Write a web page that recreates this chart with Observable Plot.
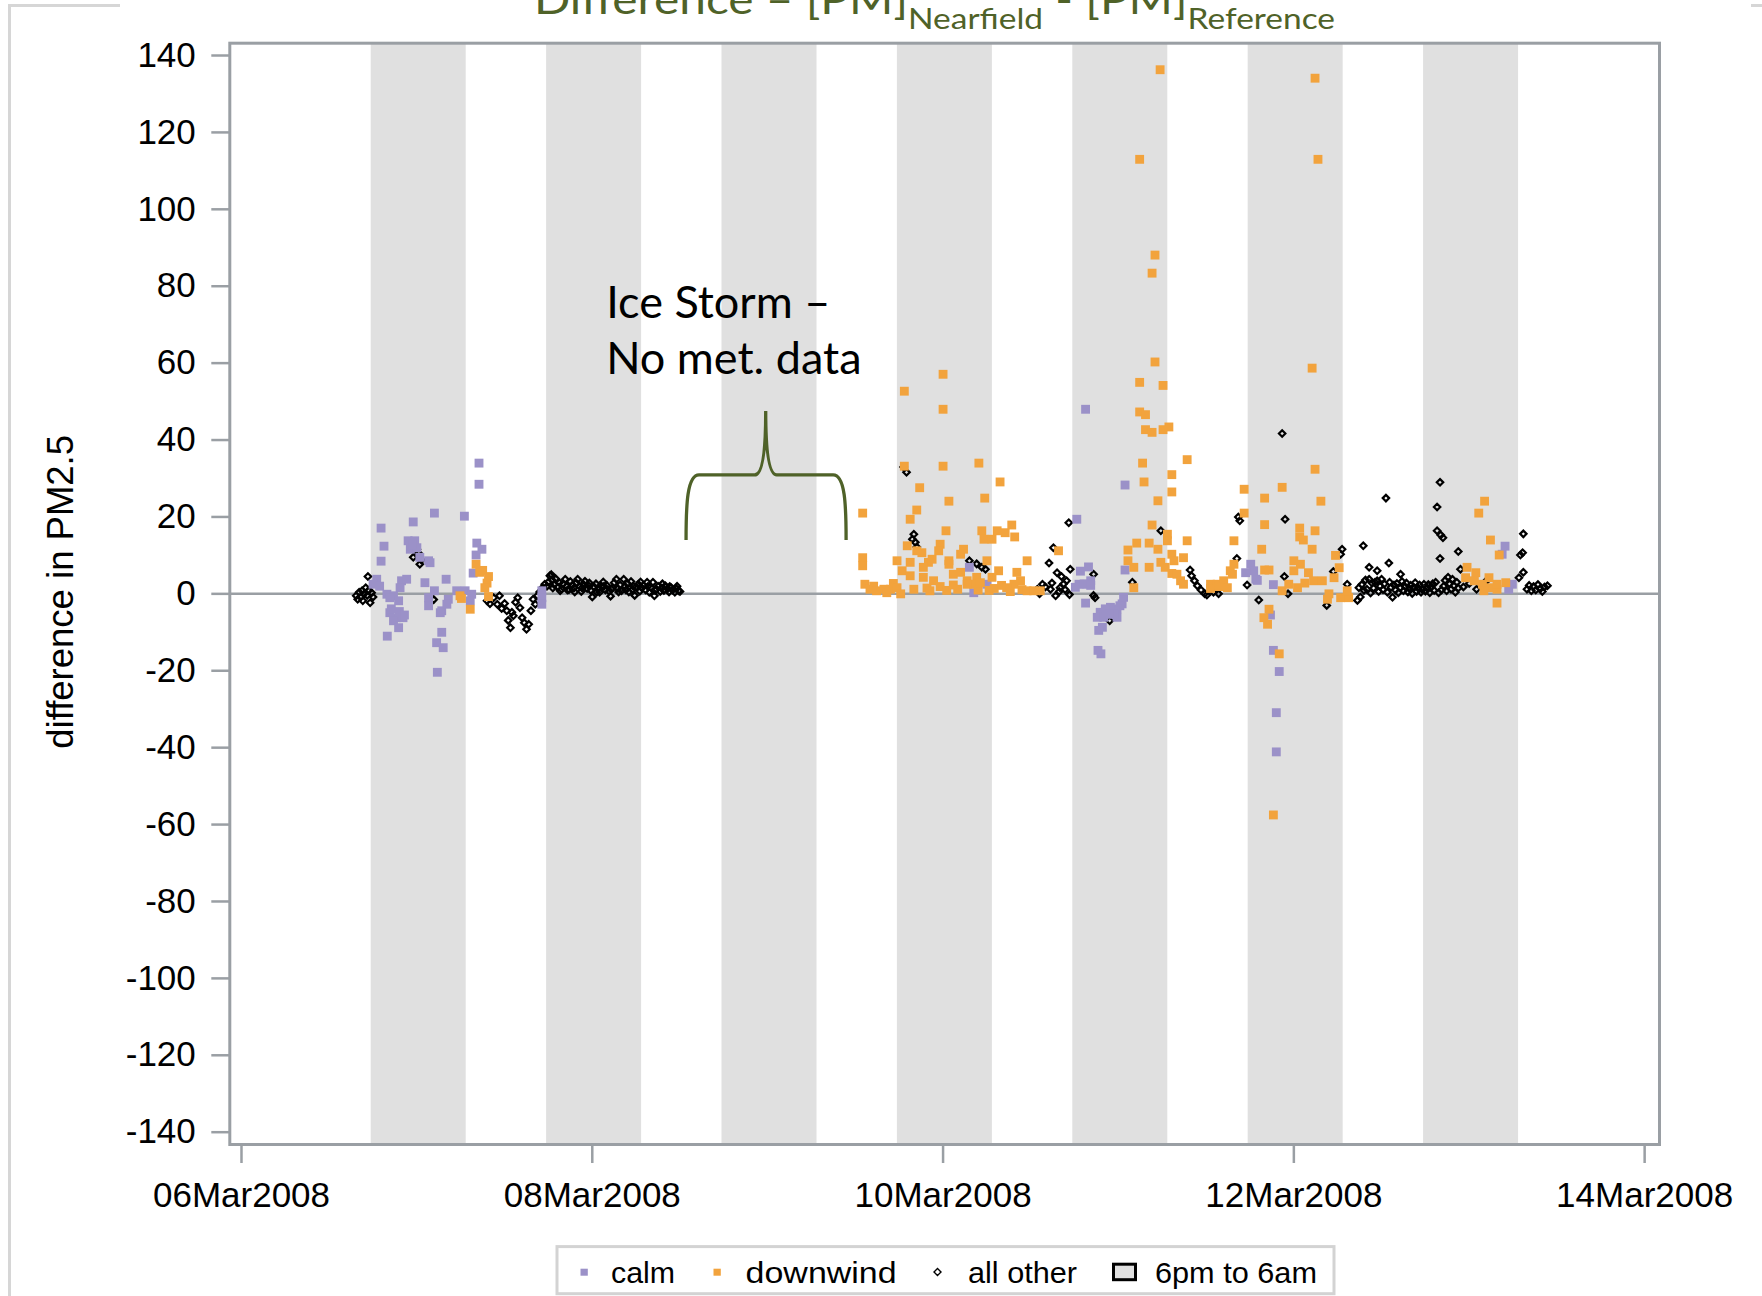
<!DOCTYPE html>
<html>
<head>
<meta charset="utf-8">
<script src="https://cdn.jsdelivr.net/npm/d3@7"></script>
<script src="https://cdn.jsdelivr.net/npm/@observablehq/plot@0.6"></script>
<style>
  html, body { margin: 0; padding: 0; background: #fff; overflow: hidden; }
  #wrap { position: relative; width: 1762px; height: 1296px; overflow: hidden; }
  #chart { position: absolute; left: 0; top: 0; }
  .art { position: absolute; background: #d6d6d6; }
  .ov { position: absolute; left: 0; }
</style>
</head>
<body>
<div id="wrap">
  <div class="art" style="left:8px;top:4px;width:3px;height:1300px"></div>
  <div class="art" style="left:8px;top:4px;width:112px;height:3px"></div>
  <div class="art" style="left:1751px;top:4px;width:11px;height:3px"></div>
  <div id="chart"></div>
  <svg id="title" class="ov" style="top:0" width="1762" height="60"></svg>
  <svg id="legend" class="ov" style="top:1236px" width="1762" height="60"></svg>
</div>
<script>
// ---------- data (hours since 06Mar2008 00:00, difference in PM2.5) ----------
const START = Date.UTC(2008, 2, 6);

const calm = [
  [32.5,34.0],[32.5,28.5],[26.4,21.0],[30.5,20.2],[23.5,18.7],[19.1,17.1],[19.5,12.4],[19.1,8.5],
  [22.8,13.8],[23.7,13.8],[23.1,11.6],[24.0,12.0],[23.4,12.8],[24.4,9.5],[25.6,8.6],[25.8,8.1],
  [18.5,3.8],[18.0,2.5],[18.9,2.0],[21.9,3.4],[22.6,3.8],[21.7,1.6],[25.1,2.9],[28.0,3.8],[26.4,0.8],
  [19.9,-0.1],[20.8,-0.5],[21.5,-1.8],[20.3,-1.0],[25.6,-1.0],[25.6,-3.1],
  [20.3,-4.9],[21.2,-6.2],[22.1,-6.2],[20.8,-7.0],[21.5,-8.8],[20.5,-3.9],[21.6,-4.6],[22.3,-5.5],[19.95,-11.0],
  [27.4,-4.4],[27.2,-4.9],[28.3,-1.4],[28.1,-2.7],[29.45,0.8],[30.6,0.8],[31.5,-0.1],[31.3,-1.8],
  [27.4,-10.0],[26.7,-12.7],[27.6,-14.0],[26.8,-20.4],
  [32.2,13.2],[32.9,11.6],[32.1,10.1],[31.7,5.4],
  [41.1,0.8],[41.1,-1.0],[41.1,-2.7],
  [99.6,6.9],[100.2,0.3],[102.0,2.5],
  [115.5,48.0],[114.3,19.4],[114.8,5.9],[115.9,7.0],[116.2,3.4],[114.6,2.5],[115.7,2.5],[115.3,2.6],[114.1,1.7],[116.2,2.2],[115.5,-2.4],
  [120.9,28.3],[120.9,6.2],
  [120.7,-0.9],[120.5,-2.6],[120.2,-3.1],[119.8,-3.9],[119.6,-4.4],[118.9,-3.5],[118.9,-5.3],[118.2,-3.9],[117.5,-4.8],
  [117.1,-6.1],[118.0,-6.1],[119.8,-6.1],[119.4,-5.2],[118.7,-5.2],[117.8,-8.7],[117.3,-9.5],[117.2,-14.7],[117.6,-15.6],
  [138.1,7.7],[138.5,6.0],[137.4,5.5],[138.8,3.8],[139.0,3.5],[141.2,2.4],[140.8,-5.5],[141.2,-14.7],[142.0,-20.2],[141.6,-30.9],[141.6,-41.1],
  [172.9,12.4],[172.5,10.3],[173.9,2.5],[173.4,1.2]
];

const downwind = [
  [29.9,-0.5],[30.1,-1.2],[31.3,-4.0],[32.1,7.7],[32.6,5.6],[33.0,6.1],[33.6,2.8],[33.8,4.5],[33.3,1.6],[33.8,-0.7],
  [85.0,21.0],[85.0,9.4],[85.0,7.3],[85.3,2.5],[86.0,1.2],[86.5,2.0],[86.9,0.8],[87.9,1.2],[88.3,0.3],[88.8,1.2],[89.2,2.7],[89.7,1.6],[90.2,0.0],
  [90.7,52.7],[96.0,57.1],[96.0,48.0],[90.7,33.2],[96.0,33.2],[100.9,34.0],[92.8,27.6],[103.8,29.1],[96.8,24.1],[101.7,24.9],[92.4,21.8],[91.5,19.4],[96.4,16.4],
  [101.3,16.4],[101.6,14.2],[102.7,14.2],[103.4,16.4],[104.5,15.9],[105.4,17.9],[105.8,14.8],
  [91.1,12.5],[92.4,11.2],[93.1,10.7],[91.5,8.2],[89.7,8.6],[90.4,6.0],[91.5,4.7],
  [95.6,12.9],[95.4,11.2],[94.5,9.0],[94.0,8.2],[96.8,8.6],[96.8,7.7],
  [98.8,11.6],[98.4,10.3],[102.0,8.6],[103.6,6.0],[102.7,4.3],[100.6,4.3],
  [93.3,6.9],[93.3,4.3],[94.7,3.4],[97.4,5.1],[98.4,5.6],[99.3,3.4],[100.2,2.5],
  [92.0,1.2],[93.8,1.5],[94.2,0.8],[95.6,1.9],[96.5,0.9],[97.4,2.3],[98.0,1.2],[99.3,2.5],[100.8,1.0],[101.1,2.9],[102.3,0.9],[103.0,1.4],[104.0,2.2],
  [106.1,5.6],[106.6,3.4],[105.7,2.5],[104.7,1.6],[105.2,0.6],[106.8,1.1],[107.5,8.6],
  [107.5,0.8],[108.4,0.8],[109.3,0.8],[111.8,11.2],
  [122.9,113.0],[125.7,136.3],[125.0,88.1],[124.6,83.4],
  [125.0,60.3],[122.9,55.0],[126.1,54.2],[122.9,47.3],[123.7,46.6],[123.7,42.7],[124.6,42.0],[126.1,42.7],[126.9,43.4],
  [123.3,34.0],[123.5,29.1],[127.3,31.0],[127.3,26.5],[129.4,34.9],[125.4,24.2],[124.6,17.9],[126.7,15.5],[126.7,13.8],
  [122.5,13.2],[124.2,13.2],[125.4,11.6],[121.3,11.4],[121.3,8.6],[122.1,6.9],[124.2,6.9],[125.8,8.2],[126.4,6.9],
  [127.3,10.3],[127.6,8.6],[128.9,9.4],[129.4,13.8],[122.1,1.6],[127.3,5.3],[128.0,5.1],[128.5,3.4],[128.9,2.5],
  [132.6,2.5],[133.5,2.5],[134.4,3.4],[135.3,6.0],[135.8,7.7],[135.8,13.8],[132.6,1.4],[133.7,1.9],[134.9,1.6],[135.6,5.1],
  [137.2,27.2],[137.2,21.0],[140.0,24.9],[140.0,18.0],[139.6,11.6],[140.0,6.2],[140.6,6.2],[142.4,27.7],
  [140.6,-4.0],[139.9,-6.2],[140.4,-7.9],[142.0,-15.6],[141.2,-57.5],
  [146.9,134.1],[147.3,113.0],[146.5,58.7],[146.9,32.4],[147.7,24.1],[144.8,17.1],[144.8,14.8],[145.3,14.0],[146.9,16.4],[146.5,11.6],
  [144.0,8.6],[144.0,6.0],[144.9,7.7],[146.0,5.5],[146.7,3.4],[147.9,3.4],[149.5,4.2],[150.2,6.8],[149.7,10.0],
  [142.4,0.8],[143.3,2.5],[144.5,1.6],[145.5,2.8],[148.8,0.0],[148.6,-1.4],[150.4,-1.0],[151.5,-1.0],[151.3,0.8],
  [167.7,6.9],[168.9,5.5],[167.5,4.2],[168.7,3.4],[169.8,2.5],[170.7,4.2],[170.9,1.6],[170.0,0.8],[171.8,1.2],[173.0,2.9],[171.8,2.5],
  [170.1,24.1],[169.3,21.0],[170.9,14.0],[172.1,10.1],[171.8,-2.4]
];

const allOther = [
  [15.7,-0.5],[15.9,-1.4],[16.1,0.4],[16.3,-0.9],[16.5,0.8],[16.6,-1.8],[16.8,0.0],[17.0,1.6],[17.2,-0.4],[17.3,4.5],[17.4,0.9],[17.6,-2.3],[17.8,0.3],[18.0,-0.8],
  [23.5,9.5],[24.0,11.6],[24.2,10.6],[24.4,7.7],[24.6,8.8],[26.3,-1.5],
  [33.6,-1.8],[34.0,-2.6],[34.5,-1.0],[35.0,-2.7],[35.3,-0.5],[35.6,-3.8],[36.0,-2.5],[36.3,-4.4],[36.5,-6.9],[36.8,-8.8],
  [37.0,-4.8],[37.2,-5.7],[37.5,-2.2],[37.8,-1.0],[38.1,-3.6],[38.4,-6.2],[38.7,-7.5],[39.0,-9.2],[39.3,-7.9],[39.6,-4.4],
  [39.9,-1.4],[40.2,-2.7],[40.5,-0.5],[40.8,0.5],[41.2,1.6],[41.5,2.5],
  [41.8,2.0],[42.0,3.1],[42.2,4.7],[42.4,5.0],[42.5,3.6],[42.6,1.5],[42.8,2.4],[43.0,3.9],[43.3,1.8],[43.5,2.9],[43.6,0.8],[43.8,1.2],
  [44.0,2.6],[44.3,3.8],[44.5,2.0],[44.6,1.0],[44.8,1.1],[45.0,3.2],[45.3,2.3],[45.5,1.5],[45.6,0.5],[45.8,2.8],[46.0,3.8],[46.3,1.9],
  [46.5,0.6],[46.6,1.5],[46.8,2.4],[47.0,3.3],[47.3,1.4],[47.5,2.1],[47.6,2.8],[47.8,0.9],[48.0,-0.8],[48.3,1.7],[48.5,2.6],[48.6,0.4],
  [48.8,1.3],[49.0,0.4],[49.3,1.9],[49.5,3.1],[49.6,2.0],[49.8,1.0],[50.0,2.2],[50.3,0.7],[50.5,-0.6],[50.6,1.2],[50.8,1.6],[51.0,2.9],
  [51.3,3.8],[51.5,1.4],[51.6,0.5],[51.8,2.3],[52.0,0.8],[52.3,3.8],[52.5,1.9],[52.6,1.0],[52.8,2.7],[53.0,0.5],[53.3,3.2],[53.5,1.1],
  [53.6,2.0],[53.8,-0.4],[54.0,1.8],[54.3,2.5],[54.5,0.7],[54.6,3.1],[54.8,1.5],[55.0,2.2],[55.3,1.0],[55.5,3.0],[55.6,1.9],[55.8,0.4],
  [56.0,1.7],[56.3,3.0],[56.5,-0.5],[56.6,0.9],[56.8,1.2],[57.0,2.0],[57.3,0.6],[57.5,1.5],[57.6,2.6],[57.8,0.9],[58.0,2.1],[58.3,1.3],
  [58.5,0.5],[58.6,1.9],[58.8,1.6],[59.0,1.0],[59.3,0.4],[59.5,1.4],[59.6,2.0],[59.8,0.8],[60.0,0.6],
  [90.6,33.0],[91.0,31.6],[91.8,14.2],[92.0,15.5],[92.2,13.4],[92.4,12.2],[99.6,8.6],[100.6,7.8],[101.3,6.9],[101.8,6.4],
  [108.9,1.2],[109.2,0.0],[109.6,2.5],[110.0,1.8],[110.5,8.0],[110.7,1.2],[110.9,2.8],[111.1,12.0],[111.4,-0.5],[111.6,5.5],
  [111.9,0.6],[112.0,1.6],[112.2,4.5],[112.5,2.6],[112.7,1.1],[112.9,3.4],[113.2,18.5],[113.3,-0.2],[113.4,6.4],
  [116.6,5.1],[116.6,-0.4],[116.8,-1.0],[118.8,-7.0],[121.9,3.0],[125.8,16.4],
  [129.8,6.2],[130.0,4.7],[130.4,3.4],[130.8,2.1],[131.3,1.0],[131.8,0.0],[132.1,-0.3],[133.0,0.4],[133.7,0.0],
  [136.2,9.2],[136.4,20.0],[136.6,19.0],[137.6,2.3],[139.2,-1.6],[142.4,41.7],[142.8,19.4],[142.7,4.5],[143.2,0.0],
  [148.5,-3.0],[149.4,5.8],[150.4,10.3],[150.6,11.6],[151.3,2.5],[152.7,-1.7],[153.5,12.5],
  [152.9,1.6],[153.1,-0.8],[153.3,2.4],[153.6,0.9],[153.8,3.6],[154.0,1.2],[154.3,6.9],[154.3,3.8],[154.5,0.2],[154.7,2.8],
  [154.9,1.5],[155.1,3.0],[155.4,6.0],[155.4,3.4],[155.6,0.6],[155.8,2.0],[156.0,3.8],[156.2,1.1],[156.4,2.6],[156.6,24.9],
  [156.8,0.4],[157.0,8.0],[157.1,3.0],[157.3,1.7],[157.5,-0.9],[157.7,2.3],[157.9,1.0],[158.1,2.7],[158.3,0.3],[158.6,5.1],
  [158.6,1.6],[158.8,3.2],[159.0,0.8],[159.2,1.9],[159.4,2.8],[159.6,0.5],[159.8,1.4],[160.0,2.2],[160.2,0.1],[160.4,1.7],
  [160.6,2.9],[160.8,0.6],[161.0,1.5],[161.2,2.3],[161.4,0.4],[161.6,1.1],[161.8,2.5],[162.0,0.7],[162.2,1.6],[162.4,2.4],
  [162.6,0.3],[162.8,1.8],[163.0,2.6],[163.2,0.9],[163.4,3.0],[163.8,0.3],[164.2,1.0],
  [163.6,22.6],[164.0,29.0],[163.6,16.4],[164.1,15.3],[164.4,14.6],[164.0,9.2],[166.5,11.0],
  [164.5,2.0],[164.7,3.5],[164.9,0.8],[165.1,4.3],[165.3,2.6],[165.5,1.2],[165.7,3.8],[165.9,2.1],[166.1,0.4],[166.3,3.0],
  [166.5,1.5],[166.8,6.4],[167.2,1.8],[168.0,2.7],[169.0,1.2],[170.4,3.5],
  [174.8,4.2],[175.0,10.1],[175.3,10.7],[175.4,15.6],[175.4,5.6],
  [175.9,1.2],[176.2,2.2],[176.5,0.8],[176.8,1.9],[177.1,1.0],[177.4,2.4],[177.7,1.3],[178.0,0.6],[178.3,1.8],[178.7,2.1]
];

// 6pm-to-6am shading
const bandStarts = ["2008-03-06T17:45Z","2008-03-07T17:45Z","2008-03-08T17:45Z","2008-03-09T17:45Z","2008-03-10T17:45Z","2008-03-11T17:45Z","2008-03-12T17:45Z"];
const bandEnds   = ["2008-03-07T06:45Z","2008-03-08T06:45Z","2008-03-09T06:45Z","2008-03-10T06:45Z","2008-03-11T06:45Z","2008-03-12T06:45Z","2008-03-13T06:45Z"];

// axes
const xTicks = ["2008-03-06","2008-03-08","2008-03-10","2008-03-12","2008-03-14"];
const yTicks = [-140,-120,-100,-80,-60,-40,-20,0,20,40,60,80,100,120,140];
const xDomain = ["2008-03-05T22:24Z","2008-03-14T02:02Z"];
const yDomain = [-143.2, 143.2];
const yLabel = "difference in PM2.5";

// annotation (hours, value)
const annotText = "Ice Storm –\nNo met. data";
const annotAt = [49.9, 82.0];
const brace = {from: 60.9, mid: 71.8, to: 82.8, foot: 13.9, arm: 30.8, tip: 47.4};

// legend
const legendLabels = ["calm", "downwind", "all other", "6pm to 6am"];
const legendWidths = [64, 151, 109, 162];

// ---------- styles ----------
const CALM = "#9b91c8", DOWN = "#f2a33d", BAND = "#e0e0e0", AXIS = "#9a9fa4", OLIVE = "#4f6228";

const toDate = h => new Date(START + h * 3600e3);
const rows = arr => arr.map(([h, v]) => ({t: toDate(h), v}));
const bands = bandStarts.map((s, i) => ({start: new Date(s), end: new Date(bandEnds[i])}));

function braceMark(index, scales) {
  const x = scales.x, y = scales.y;
  const x0 = x(toDate(brace.from)), x1 = x(toDate(brace.to)), xm = x(toDate(brace.mid));
  const yf = y(brace.foot), ya = y(brace.arm), yt = y(brace.tip);
  const p = d3.path();
  p.moveTo(x0, yf);
  p.bezierCurveTo(x0, ya + 30, x0 + 1, ya, x0 + 13, ya);
  p.lineTo(xm - 11, ya);
  p.quadraticCurveTo(xm, ya, xm, yt);
  p.quadraticCurveTo(xm, ya, xm + 11, ya);
  p.lineTo(x1 - 13, ya);
  p.bezierCurveTo(x1 - 1, ya, x1, ya + 30, x1, yf);
  const el = document.createElementNS("http://www.w3.org/2000/svg", "path");
  el.setAttribute("d", p.toString());
  el.setAttribute("fill", "none");
  el.setAttribute("stroke", OLIVE);
  el.setAttribute("stroke-width", "3.3");
  return el;
}

const chart = Plot.plot({
  width: 1762,
  height: 1230,
  marginLeft: 229.3,
  marginRight: 103,
  marginTop: 42.7,
  marginBottom: 86,
  style: {fontFamily: "'Liberation Sans', Arial, sans-serif", fontSize: "35px", background: "transparent", color: "black", overflow: "visible"},
  x: {type: "utc", domain: xDomain.map(d => new Date(d))},
  y: {domain: yDomain},
  marks: [
    Plot.rect(bands, {x1: "start", x2: "end", fill: BAND}),
    Plot.ruleY([0], {stroke: AXIS, strokeWidth: 2.5}),
    Plot.dot(rows(allOther), {x: "t", y: "v", symbol: "diamond2", r: 2.9, fill: "none", stroke: "black", strokeWidth: 2.2}),
    Plot.dot(rows(calm), {x: "t", y: "v", symbol: "square", r: 5, fill: CALM}),
    Plot.dot(rows(downwind), {x: "t", y: "v", symbol: "square", r: 5, fill: DOWN}),
    braceMark,
    Plot.text([{t: toDate(annotAt[0]), v: annotAt[1], label: annotText}], {
      x: "t", y: "v", text: "label", textAnchor: "start", lineAnchor: "top",
      fontFamily: "Lato, 'Open Sans', sans-serif", fontSize: 45, lineHeight: 1.24, fill: "black"
    }),
    Plot.frame({stroke: AXIS, strokeWidth: 3}),
    Plot.axisX({ticks: xTicks.map(d => new Date(d)), tickFormat: d3.utcFormat("%d%b%Y"), tickSize: 19, tickPadding: 19,
      stroke: AXIS, strokeWidth: 2.5, fill: "black", label: null, fontSize: 35}),
    Plot.axisY({ticks: yTicks, tickFormat: d => String(d), tickSize: 18, tickPadding: 16,
      stroke: AXIS, strokeWidth: 2.5, fill: "black", label: null, fontSize: 35}),
    Plot.text([yLabel], {frameAnchor: "left", textAnchor: "middle", lineAnchor: "middle", rotate: -90, dx: -168.8, dy: -2, fontSize: 36.5, fill: "black"})
  ]
});
document.getElementById("chart").appendChild(chart);

// ---------- title ----------
const NS = "http://www.w3.org/2000/svg";
const tsvg = document.getElementById("title");
const tt = document.createElementNS(NS, "text");
tt.setAttribute("x", 534); tt.setAttribute("y", 14);
tt.setAttribute("font-family", "Lato, 'Open Sans', sans-serif");
tt.setAttribute("font-size", 40); tt.setAttribute("fill", OLIVE);
const parts = [["Difference – [PM]", 40, 0], ["Nearfield", 28, 15], [" - [PM]", 40, -15], ["Reference", 28, 15]];
for (const [s, fs, dy] of parts) {
  const sp = document.createElementNS(NS, "tspan");
  sp.setAttribute("font-size", fs); sp.setAttribute("dy", dy);
  sp.textContent = s; tt.appendChild(sp);
}
tt.setAttribute("textLength", 801);
tt.setAttribute("lengthAdjust", "spacingAndGlyphs");
tsvg.appendChild(tt);

// ---------- legend ----------
const lsvg = d3.select("#legend");
lsvg.append("rect").attr("x", 557).attr("y", 10.6).attr("width", 777).attr("height", 47.1)
  .attr("fill", "white").attr("stroke", "#d3d3d3").attr("stroke-width", 3);
lsvg.append("rect").attr("x", 580.5).attr("y", 32.7).attr("width", 7.3).attr("height", 7).attr("fill", CALM);
lsvg.append("rect").attr("x", 713.5).attr("y", 32.7).attr("width", 7.3).attr("height", 7).attr("fill", DOWN);
lsvg.append("path").attr("d", "M937.5,32.5L941,36L937.5,39.5L934,36Z").attr("fill", "none").attr("stroke", "black").attr("stroke-width", 1.4);
lsvg.append("rect").attr("x", 1113.5).attr("y", 28.2).attr("width", 22).attr("height", 15.5)
  .attr("fill", BAND).attr("stroke", "black").attr("stroke-width", 3);
const lx = [611, 745.6, 968, 1155];
legendLabels.forEach((s, i) => {
  lsvg.append("text").attr("x", lx[i]).attr("y", 46.7)
    .attr("font-family", "'Liberation Sans', Arial, sans-serif").attr("font-size", 30).attr("fill", "black")
    .attr("textLength", legendWidths[i]).attr("lengthAdjust", "spacingAndGlyphs").text(s);
});
</script>
